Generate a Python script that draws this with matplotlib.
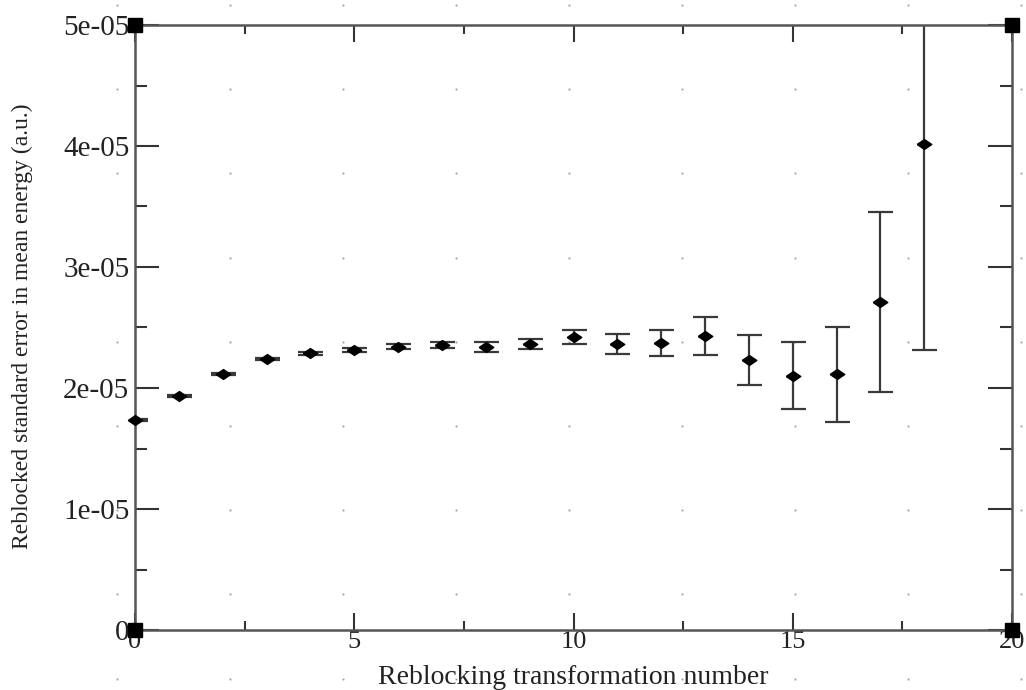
import numpy as np
import matplotlib
matplotlib.use("Agg")
import matplotlib.pyplot as plt
from matplotlib.lines import Line2D
from matplotlib.ticker import MultipleLocator, FuncFormatter

plt.rcParams['font.family'] = ['Liberation Serif', 'DejaVu Serif']

# reblocking transformation number vs. reblocked standard error (units of 1e-5 a.u.)
step = np.arange(19)
std_err = np.array([1.736, 1.934, 2.116, 2.240, 2.287, 2.314, 2.340, 2.355, 2.340, 2.364,
                    2.419, 2.364, 2.375, 2.430, 2.231, 2.102, 2.113, 2.713, 4.014]) * 1e-5
err_of_err = np.array([0.005, 0.006, 0.008, 0.010, 0.012, 0.017, 0.020, 0.022, 0.039, 0.041,
                       0.059, 0.080, 0.107, 0.156, 0.205, 0.275, 0.395, 0.745, 1.700]) * 1e-5

xlabel = "Reblocking transformation number"
ylabel = "Reblocked standard error in mean energy (a.u.)"

fig = plt.figure(figsize=(10.26, 6.9), dpi=100)

# faint dot pattern in the background of the scan
gx, gy = np.meshgrid(np.arange(117, 1026, 113.0), np.arange(5, 690, 84.2))
fig.add_artist(Line2D(gx.ravel() / 1026, 1 - gy.ravel() / 690, ls='none', marker='s',
                      ms=1.3, mew=0, color='#9a9a9a', transform=fig.transFigure, zorder=0))

ax = fig.add_axes([135 / 1026, 1 - 630 / 690, 877 / 1026, 605 / 690])
ax.set_facecolor('none')

diamond = [(-1, 0), (0, 0.68), (1, 0), (0, -0.68), (-1, 0)]
ax.errorbar(step, std_err, yerr=err_of_err, fmt='none', ecolor='#3a3a3a',
            elinewidth=1.6, capsize=9, capthick=1.6, zorder=2)
ax.plot(step, std_err, ls='none', marker=diamond, ms=10.5, color='black',
        clip_on=False, zorder=3)

ax.set_xlim(0, 20)
ax.set_ylim(0, 5e-5)

# black squares at the frame corners
ax.plot([0, 0, 20, 20], [0, 5e-5, 0, 5e-5], ls='none', marker='s', ms=10,
        color='black', clip_on=False, zorder=5)

for s in ax.spines.values():
    s.set_color('#555555')
    s.set_linewidth(1.8)

ax.xaxis.set_major_locator(MultipleLocator(5))
ax.xaxis.set_minor_locator(MultipleLocator(2.5))
ax.yaxis.set_major_locator(MultipleLocator(1e-5))
ax.yaxis.set_minor_locator(MultipleLocator(0.5e-5))
ax.yaxis.set_major_formatter(FuncFormatter(lambda v, p: '0' if abs(v) < 1e-12 else f'{v:.0e}'))
ax.xaxis.set_major_formatter(FuncFormatter(lambda v, p: f'{v:.0f}'))

ax.tick_params(which='both', direction='in', top=True, right=True, color='#333333',
               width=1.5, labelcolor='#222222')
ax.tick_params(axis='x', which='major', length=12.5, pad=1, labelsize=19)
ax.tick_params(axis='x', which='minor', length=6.5)
ax.tick_params(axis='y', which='major', length=17, pad=4, labelsize=21)
ax.tick_params(axis='y', which='minor', length=8.5)

ax.set_xlabel(xlabel, fontsize=20, color='#222222')
ax.xaxis.label.set_va('baseline')
ax.xaxis.set_label_coords(0.5, -0.0893)

ax.set_ylabel(ylabel, fontsize=17, color='#222222')
ax.yaxis.label.set_va('center')
ax.yaxis.set_label_coords(-0.1288, 0.5017)

fig.savefig('out.png', dpi=100)
